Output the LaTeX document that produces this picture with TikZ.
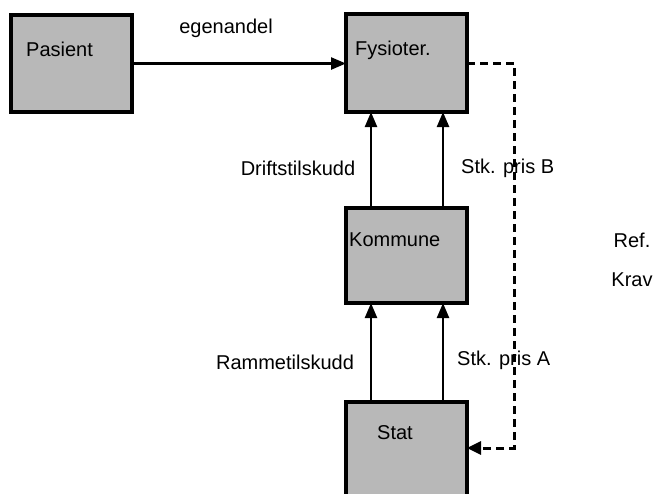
\documentclass[tikz,border=0pt]{standalone}
\usepackage{fontspec}
\setmainfont{Liberation Sans}
\usetikzlibrary{arrows.meta}
\begin{document}
\begin{tikzpicture}[x=1pt,y=-1pt,
  box/.style={draw=black,line width=3.2pt,fill=black!28,minimum width=121pt,inner sep=0pt,outer sep=0pt},
  lbl/.style={font=\fontsize{20}{23}\selectfont,inner sep=0pt},
  arr/.style={line width=2.4pt,-{Triangle[length=15pt,width=12pt]}},
  dsh/.style={line width=3pt,dash pattern=on 8pt off 5pt,-{Triangle[length=14pt,width=13pt]}}]
\useasboundingbox (0,0) rectangle (655,493);
\clip (0,0) rectangle (655,493);
\node[box,minimum height=97pt] (pas) at (71.5,63.5) {};
\node[box,minimum height=98pt] (fys) at (406.5,63) {};
\node[box,minimum height=95pt] (kom) at (406.5,255.5) {};
\node[box,minimum height=110pt] (stat) at (406.5,457) {};
\node[lbl,anchor=west] (tpas) at (26,49) {Pasient};
\node[lbl,anchor=west] (tfys) at (355,50) {Fysioter.};
\node[lbl,anchor=west] (tkom) at (349,240) {Kommune};
\node[lbl] (tstat) at (395,433) {Stat};
\draw[arr] (pas.east) -- (pas.east -| fys.west);
\draw[arr] ([xshift=-35.5pt]kom.north) -- ([xshift=-35.5pt]fys.south);
\draw[arr] ([xshift=36.5pt]kom.north) -- ([xshift=36.5pt]fys.south);
\draw[arr] ([xshift=-35.5pt]stat.north) -- ([xshift=-35.5pt]kom.south);
\draw[arr] ([xshift=36.5pt]stat.north) -- ([xshift=36.5pt]kom.south);
\coordinate (c1) at (514,63);
\coordinate (c2) at (514,448);
\draw[dsh] (fys.east) -- (c1) -- (c2) -- (c2 -| stat.east);
\node[lbl] (egen) at (226,28) {egenandel};
\node[lbl] (drift) at (298,168) {Driftstilskudd};
\node[lbl,anchor=west] (stkb) at (461,168) {Stk. pris B};
\node[lbl] (ramme) at (285,362) {Rammetilskudd};
\node[lbl,anchor=west] (stka) at (457,360) {Stk. pris A};
\node[lbl] (ref) at (632,240) {Ref.};
\node[lbl] (krav) at (632,280) {Krav};
\end{tikzpicture}
\end{document}
